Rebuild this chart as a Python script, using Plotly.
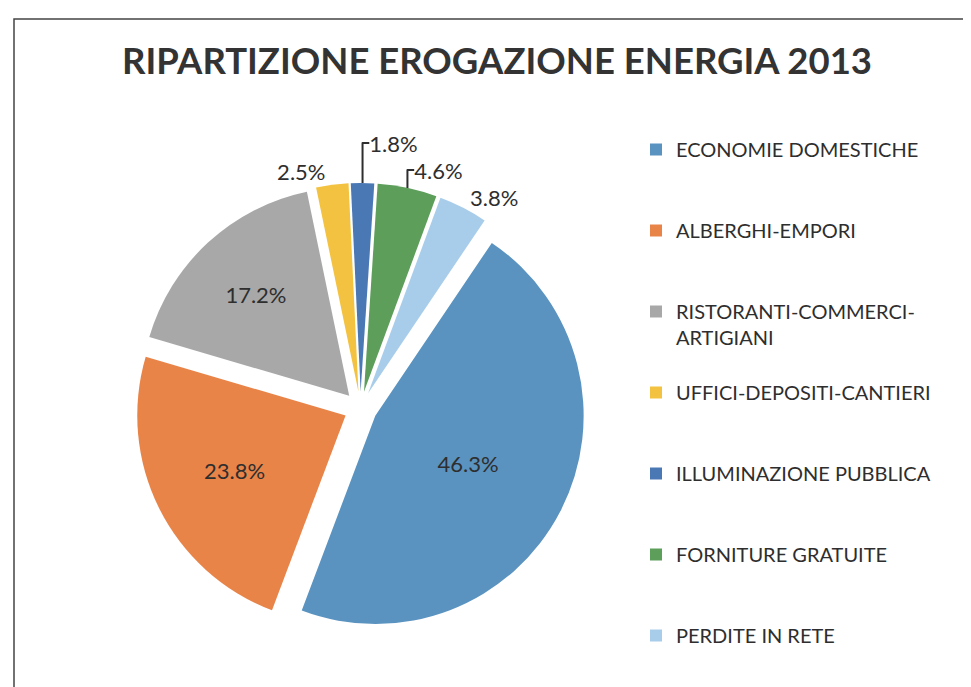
import plotly.graph_objects as go

categories = ["ECONOMIE DOMESTICHE", "ALBERGHI-EMPORI", "RISTORANTI-COMMERCI-<br>ARTIGIANI",
              "UFFICI-DEPOSITI-CANTIERI", "ILLUMINAZIONE PUBBLICA", "FORNITURE GRATUITE",
              "PERDITE IN RETE"]
values = [46.3, 23.8, 17.2, 2.5, 1.8, 4.6, 3.8]
colors = ["#5a93c0", "#e98449", "#a8a8a8", "#f2c240", "#4a78b5", "#5c9e5a", "#a8cdeb"]
text_pos = ["inside", "inside", "inside", "outside", "outside", "outside", "outside"]

W, H = 971, 687
legend_labels = []
for i, c in enumerate(categories):
    if i == len(categories) - 1:
        legend_labels.append(c)
    elif "<br>" in c:
        legend_labels.append(c + "<br> ")
    else:
        legend_labels.append(c + "<br> <br> ")

fig = go.Figure(go.Pie(
    labels=legend_labels,
    values=values,
    sort=False,
    direction="clockwise",
    rotation=34,
    pull=[0.08] * len(values),
    marker=dict(colors=colors, line=dict(color="white", width=0)),
    texttemplate="%{value:.1f}%",
    textposition=text_pos,
    textfont=dict(family="Lato, Open Sans, sans-serif", size=22, color="#2e2e2e"),
    insidetextorientation="horizontal",
    hoverinfo="label+percent",
    domain=dict(x=[95 / W, 610 / W], y=[1 - 625 / H, 1 - 175 / H]),
))

fig.update_layout(
    width=W, height=H,
    margin=dict(l=0, r=0, t=0, b=0),
    paper_bgcolor="white",
    font=dict(family="Lato, Open Sans, sans-serif", color="#2e2e2e"),
    title=dict(text="<b>RIPARTIZIONE EROGAZIONE ENERGIA 2013</b>",
               x=489 / W, xanchor="center", y=1 - 53 / H, yanchor="middle",
               font=dict(family="Lato, Open Sans, sans-serif", size=36.5, color="#333333")),
    legend=dict(x=628 / W, xanchor="left", y=1 - 122 / H, yanchor="top",
                valign="top", font=dict(size=20, color="#2e2e2e"), maxheight=1,
                bgcolor="rgba(0,0,0,0)", traceorder="normal"),
    showlegend=True,
    shapes=[dict(type="rect", xref="paper", yref="paper",
                 x0=6 / W, x1=965 / W, y0=-0.05, y1=1 - 11 / H,
                 line=dict(color="#444444", width=1.5))],
)

fig.write_html("out.html")
